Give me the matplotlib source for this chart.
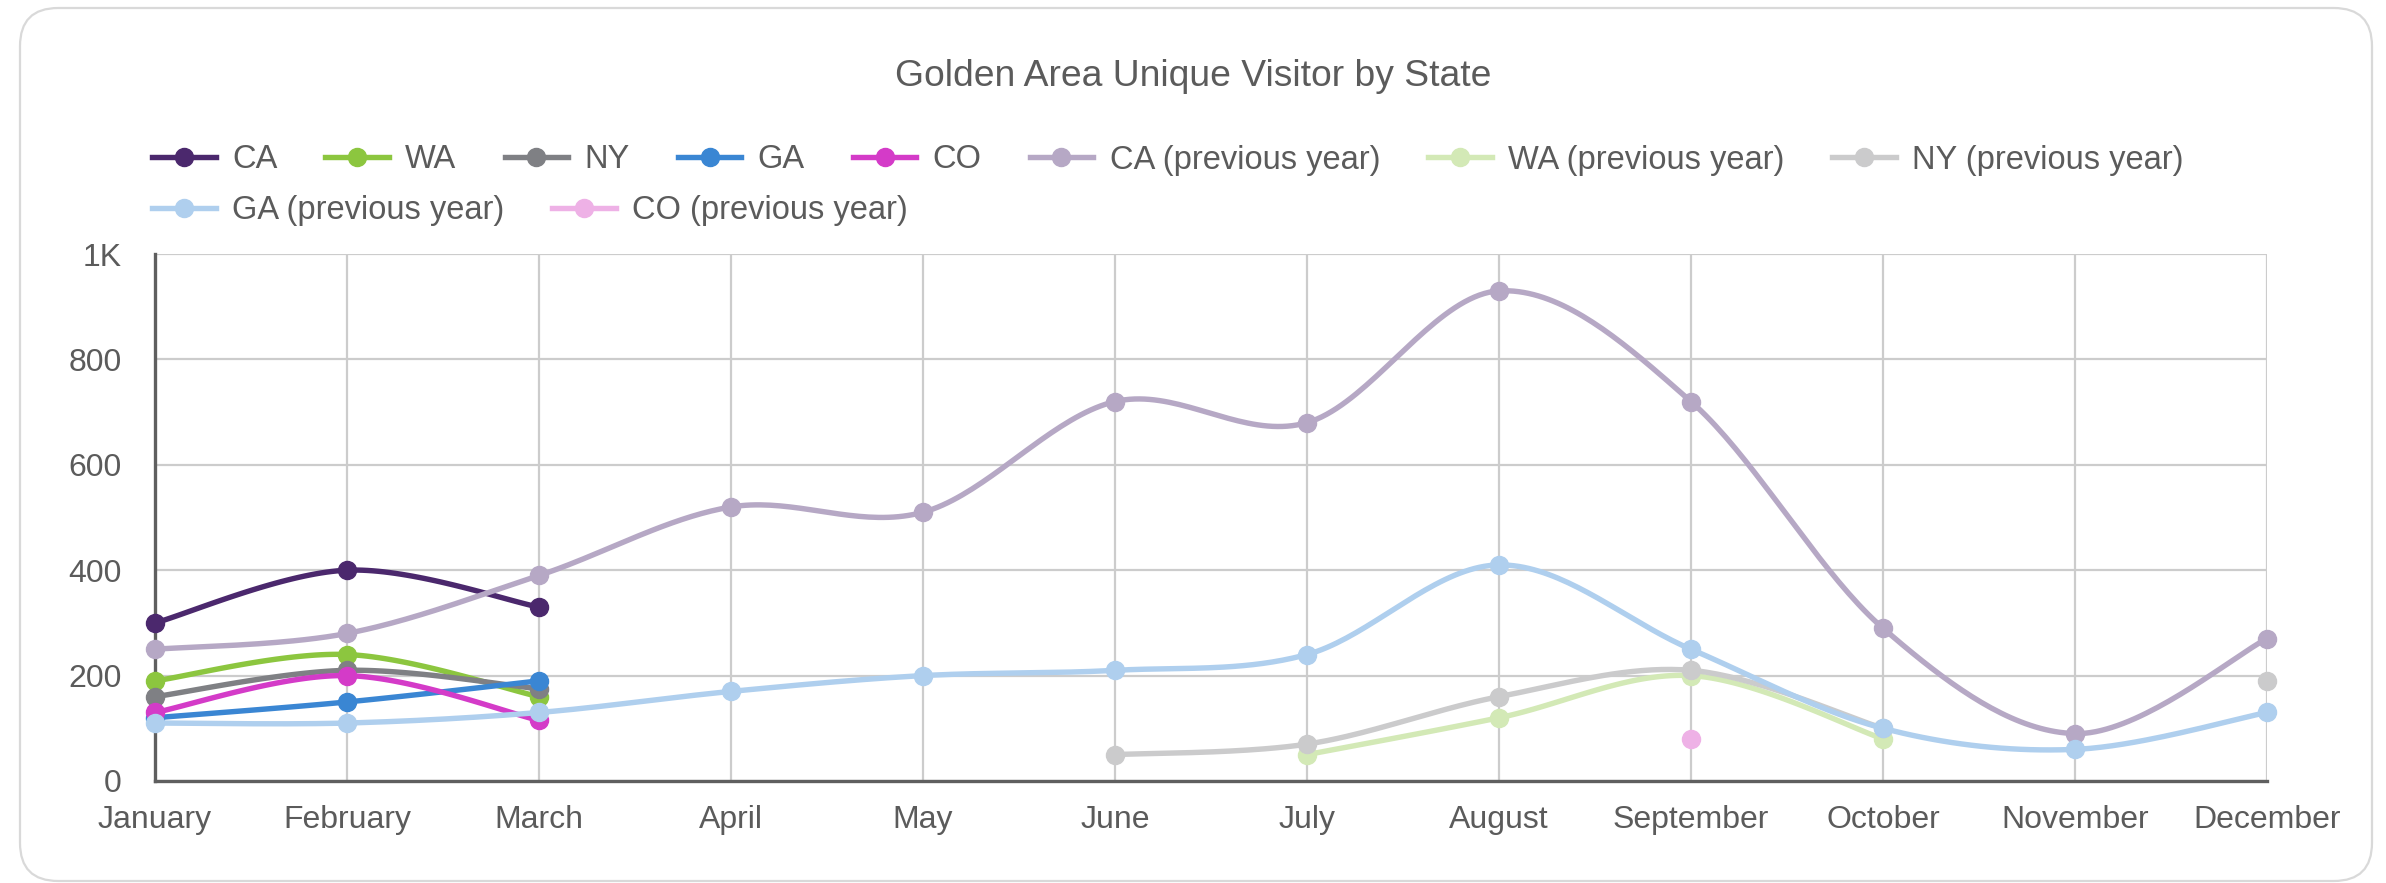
import numpy as np
import matplotlib
matplotlib.use('Agg')
import matplotlib.pyplot as plt
from matplotlib.lines import Line2D
from matplotlib.patches import FancyBboxPatch

plt.rcParams['font.family'] = ['Liberation Sans', 'DejaVu Sans']

months = ['January', 'February', 'March', 'April', 'May', 'June', 'July',
          'August', 'September', 'October', 'November', 'December']
nan = np.nan

# current year (only Jan - Mar so far)
ca = [300, 400, 330]
wa = [190, 240, 160]
ny = [160, 210, 175]
ga = [120, 150, 190]
co = [130, 200, 115]

# previous year
ca_prev = [250, 280, 390, 520, 510, 720, 680, 930, 720, 290, 90, 270]
wa_prev = [nan, nan, nan, nan, nan, nan, 50, 120, 200, 80, nan, nan]
ny_prev = [nan, nan, nan, nan, nan, 50, 70, 160, 210, 100, nan, 190]
ga_prev = [110, 110, 130, 170, 200, 210, 240, 410, 250, 100, 60, 130]
co_prev = [nan, nan, nan, nan, nan, nan, nan, nan, 80, nan, nan, nan]

labels = ['CA', 'WA', 'NY', 'GA', 'CO', 'CA (previous year)', 'WA (previous year)',
          'NY (previous year)', 'GA (previous year)', 'CO (previous year)']
series = [ca, wa, ny, ga, co, ca_prev, wa_prev, ny_prev, ga_prev, co_prev]
colors = ['#4b286d', '#8cc63f', '#7f8084', '#3a86d3', '#d43bc8',
          '#b6a8c5', '#d3e9b6', '#cbcbcc', '#afcfee', '#eeb1e6']


def smooth(xs, ys, n=40):
    # catmull-rom style bezier through the points, one run at a time
    xs = np.asarray(xs, float)
    ys = np.asarray(ys, float)
    runs, cur = [], []
    for i in range(len(ys)):
        if np.isnan(ys[i]):
            if cur:
                runs.append(cur)
            cur = []
        else:
            cur.append(i)
    if cur:
        runs.append(cur)
    out = []
    for r in runs:
        if len(r) < 2:
            continue
        P = np.column_stack([xs[r], ys[r]])
        px, py = [], []
        for k in range(len(P) - 1):
            p0 = P[max(k - 1, 0)]
            p1 = P[k]
            p2 = P[k + 1]
            p3 = P[min(k + 2, len(P) - 1)]
            c1 = p1 + (p2 - p0) / 6
            c2 = p2 - (p3 - p1) / 6
            t = np.linspace(0, 1, n)[:, None]
            b = (1 - t) ** 3 * p1 + 3 * (1 - t) ** 2 * t * c1 + 3 * (1 - t) * t ** 2 * c2 + t ** 3 * p2
            px.extend(b[:, 0])
            py.extend(b[:, 1])
        out.append((px, py))
    return out


fig = plt.figure(figsize=(23.86, 8.83), dpi=100)
fig.patch.set_facecolor('white')

# card border
card = FancyBboxPatch((20 / 2386, 2 / 883), 2352 / 2386, 873 / 883,
                      boxstyle='round,pad=0,rounding_size=0.016',
                      transform=fig.transFigure, fc='white', ec='#d9d9d9', lw=1.6,
                      mutation_aspect=2386 / 883, zorder=-10)
fig.add_artist(card)

ax = fig.add_axes([155 / 2386, 1 - 781 / 883, (2267 - 155) / 2386, (781 - 254) / 883])
ax.patch.set_alpha(0)

x = np.arange(len(months))
for i, (ys, c) in enumerate(zip(series, colors)):
    xs = x[:len(ys)]
    for px, py in smooth(xs, ys):
        ax.plot(px, py, color=c, lw=3.9, zorder=3 + i, solid_capstyle='round')
    ax.plot(xs, ys, 'o', color=c, ms=13, zorder=3 + i, clip_on=False)

ax.set_xlim(0, 11)
ax.set_ylim(0, 1000)
ax.set_xticks(x)
ax.set_xticklabels(months)
ax.set_yticks([0, 200, 400, 600, 800, 1000])
ax.set_yticklabels(['0', '200', '400', '600', '800', '1K'])
ax.tick_params(length=0, labelsize=23, colors='#5b5b5b')
ax.tick_params(axis='x', pad=17)
ax.tick_params(axis='y', pad=24)
ax.grid(color='#cccccc', lw=1.6)
ax.set_axisbelow(True)
for s in ['top', 'right']:
    ax.spines[s].set_visible(False)
for s in ['left', 'bottom']:
    ax.spines[s].set_color('#5f5f5f')
    ax.spines[s].set_linewidth(2.4)
    ax.spines[s].set_zorder(2.5)

fig.text(0.5, 1 - 77 / 883, 'Golden Area Unique Visitor by State', ha='center', va='center',
         fontsize=26.8, color='#5b5b5b')

handles = [Line2D([], [], color=c, lw=3.9, marker='o', ms=13) for c in colors]
leg_kw = dict(frameon=False, fontsize=23.5, handlelength=1.95, handletextpad=0.5,
              columnspacing=1.47, labelcolor='#5b5b5b', borderpad=0, borderaxespad=0)
fig.legend(handles[:8], labels[:8], ncol=8, loc='center left',
           bbox_to_anchor=(152 / 2386, 1 - 160 / 883), **leg_kw)
fig.legend(handles[8:], labels[8:], ncol=2, loc='center left',
           bbox_to_anchor=(152 / 2386, 1 - 211 / 883), **leg_kw)

fig.savefig('out.png', dpi=100, facecolor='white')
